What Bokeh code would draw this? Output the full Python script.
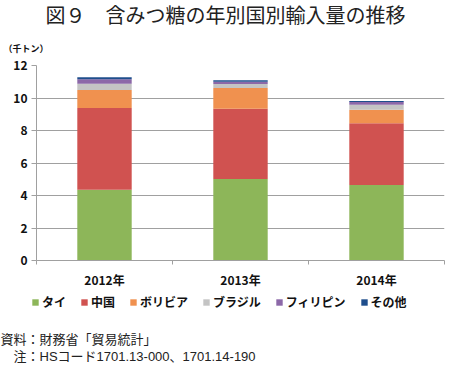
from bokeh.plotting import figure
from bokeh.layouts import column
from bokeh.models import Range1d, FixedTicker, Legend, LegendItem, ColumnDataSource, Label
from bokeh.embed import file_html
from bokeh.resources import INLINE

# ---- data ----
years = ["2012年", "2013年", "2014年"]
countries = ["タイ", "中国", "ボリビア", "ブラジル", "フィリピン", "その他"]
thai = [4.36, 5.01, 4.65]
china = [5.02, 4.33, 3.79]
bolivia = [1.11, 1.28, 0.84]
brazil = [0.39, 0.24, 0.30]
philippines = [0.28, 0.14, 0.18]
other = [0.11, 0.10, 0.06]
y_ticks = [0, 2, 4, 6, 8, 10, 12]
colors = ["#8db659", "#d05250", "#f0914f", "#c4c4c4", "#8c68a8", "#1f4e8c"]
title_text = "図９　含みつ糖の年別国別輸入量の推移"
unit_text = "（千トン）"
source_note = "資料：財務省「貿易統計」"
code_note = "　注：HSコード1701.13-000、1701.14-190"

JP = "Noto Sans CJK JP"
NOTE_FONT = "'Liberation Sans', 'Noto Sans CJK JP'"
W = 450
H_HEAD, H_CHART, H_FOOT = 56, 234, 76

centers = [i + 0.5 for i in range(len(years))]
bounds = [float(i) for i in range(len(years) + 1)]
keys = ["s%d" % i for i in range(len(countries))]
series = [thai, china, bolivia, brazil, philippines, other]
data = {"x": centers}
for k, s in zip(keys, series):
    data[k] = s
source = ColumnDataSource(data)


def blank_fig(h, xr=(0, 1), yr=(0, 1)):
    f = figure(width=W, height=h, output_backend="svg", toolbar_location=None,
               title=None, x_axis_type=None, y_axis_type=None,
               x_range=Range1d(*xr), y_range=Range1d(*yr), min_border=0,
               frame_align=False)
    f.outline_line_color = None
    f.background_fill_color = "white"
    f.border_fill_color = "white"
    return f


def add_text(f, h, txt, X, Y, size, style="normal", align="left",
             color="#111111", font=JP):
    # X, Y: position from top-left of this figure
    f.add_layout(Label(x=X, y=h - Y, x_units="screen", y_units="screen",
                       text=txt, text_font=font, text_font_size=size,
                       text_font_style=style, text_align=align,
                       text_baseline="middle", text_color=color))


# ---- header ----
head = blank_fig(H_HEAD)
add_text(head, H_HEAD, title_text, 225, 14, "20px", "normal", "center", "#222222")
add_text(head, H_HEAD, unit_text, 3, 48, "9px", "bold")

# ---- chart ----
p = figure(width=W, height=H_CHART, output_backend="svg", toolbar_location=None,
           title=None, x_range=Range1d(0, len(years)), y_range=Range1d(0, 12),
           min_border_left=36, min_border_right=6, min_border_top=9,
           min_border_bottom=28, frame_align=False)
p.outline_line_color = None
p.background_fill_color = "white"
p.border_fill_color = "white"

p.vbar_stack(keys, x="x", width=0.4, color=colors, line_color=None, source=source)

xa = p.xaxis[0]
xa.ticker = FixedTicker(ticks=centers, minor_ticks=bounds)
xa.major_label_overrides = {c: y for c, y in zip(centers, years)}
xa.major_tick_out = 0
xa.major_tick_in = 0
xa.minor_tick_out = 4
xa.minor_tick_in = 0
xa.minor_tick_line_color = "#a0a0a0"
xa.axis_line_color = "#a0a0a0"
xa.major_label_text_font = JP
xa.major_label_text_font_style = "bold"
xa.major_label_text_font_size = "12px"
xa.major_label_text_color = "#111111"
xa.major_label_standoff = 6

ya = p.yaxis[0]
ya.ticker = FixedTicker(ticks=y_ticks, minor_ticks=[])
ya.major_tick_out = 5
ya.major_tick_in = 0
ya.major_tick_line_color = "#a0a0a0"
ya.axis_line_color = "#a0a0a0"
ya.minor_tick_line_color = None
ya.major_label_text_font = JP
ya.major_label_text_font_style = "bold"
ya.major_label_text_font_size = "12px"
ya.major_label_text_color = "#111111"
ya.major_label_standoff = 4

p.xgrid.grid_line_color = None
p.ygrid.grid_line_color = "#a0a0a0"
p.ygrid.ticker = FixedTicker(ticks=y_ticks)

# ---- footer: legend + notes ----
# hidden legend proxies share the data; the footer's ranges keep them out of view
foot = blank_fig(H_FOOT, xr=(100, 101), yr=(100, 101))
proxies = foot.vbar_stack(keys, x="x", width=0.4, color=colors, line_color=None,
                          source=source)
for r in proxies:
    r.visible = False
items = [LegendItem(label=name, renderers=[r]) for name, r in zip(countries, proxies)]
legend = Legend(items=items, orientation="horizontal", location=(31, 56),
                glyph_width=8, glyph_height=8, label_standoff=3, spacing=14,
                label_text_font=JP, label_text_font_style="bold",
                label_text_font_size="12px", label_text_color="#111111",
                label_height=14, padding=0, margin=0, border_line_color=None,
                background_fill_alpha=0, inactive_fill_alpha=0)
foot.add_layout(legend, "center")
add_text(foot, H_FOOT, source_note, 0, 49, "13px", "normal", "left", "#222222", NOTE_FONT)
add_text(foot, H_FOOT, code_note, 0, 66, "13px", "normal", "left", "#222222", NOTE_FONT)

layout = column(head, p, foot, spacing=0)
open("out.html", "w").write(file_html(layout, INLINE))
